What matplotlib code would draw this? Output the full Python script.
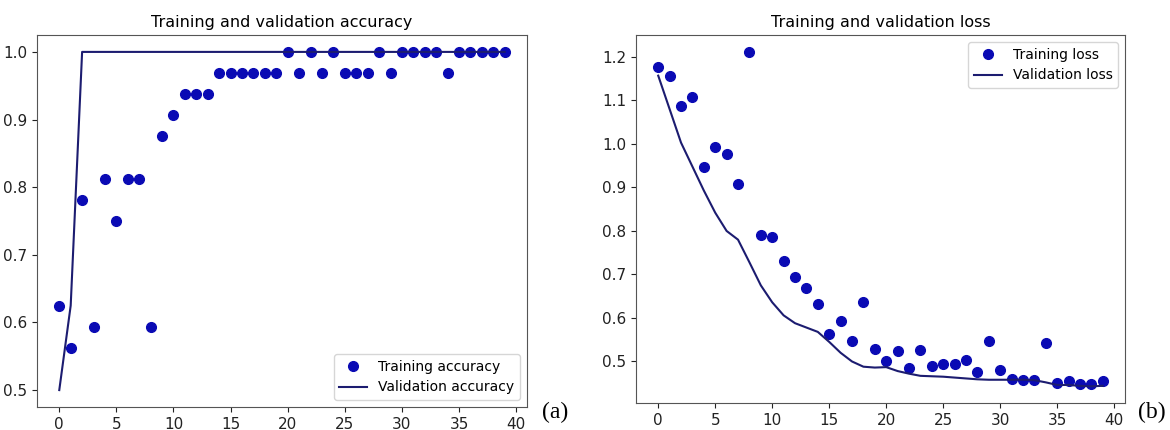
import matplotlib
matplotlib.use("Agg")
import matplotlib.pyplot as plt
import numpy as np

epochs = np.arange(40)

train_acc = [0.625, 0.5625, 0.78125, 0.59375, 0.8125, 0.75, 0.8125, 0.8125, 0.59375, 0.875,
             0.90625, 0.9375, 0.9375, 0.9375, 0.96875, 0.96875, 0.96875, 0.96875, 0.96875, 0.96875,
             1.0, 0.96875, 1.0, 0.96875, 1.0, 0.96875, 0.96875, 0.96875, 1.0, 0.96875,
             1.0, 1.0, 1.0, 1.0, 0.96875, 1.0, 1.0, 1.0, 1.0, 1.0]
val_acc = [0.5, 0.625] + [1.0] * 38

train_loss = [1.177, 1.157, 1.088, 1.107, 0.948, 0.994, 0.978, 0.907, 1.212, 0.790,
              0.785, 0.730, 0.695, 0.670, 0.631, 0.564, 0.592, 0.548, 0.636, 0.528,
              0.500, 0.523, 0.484, 0.526, 0.489, 0.494, 0.494, 0.503, 0.476, 0.548,
              0.480, 0.459, 0.457, 0.457, 0.542, 0.450, 0.455, 0.448, 0.448, 0.455]
val_loss = [1.157, 1.080, 1.003, 0.948, 0.893, 0.842, 0.800, 0.780, 0.728, 0.675,
            0.636, 0.606, 0.588, 0.578, 0.568, 0.545, 0.520, 0.500, 0.488, 0.486,
            0.487, 0.478, 0.472, 0.467, 0.466, 0.465, 0.463, 0.461, 0.459, 0.458,
            0.458, 0.458, 0.458, 0.457, 0.452, 0.446, 0.446, 0.444, 0.443, 0.444]

dot_color = "#0a0ab4"
line_color = "#1c1c70"

fig = plt.figure(figsize=(11.7, 4.3), dpi=100)
ax1 = fig.add_axes([37 / 1170, 23 / 430, 490 / 1170, 372 / 430])
ax2 = fig.add_axes([636 / 1170, 27 / 430, 489 / 1170, 368 / 430])

ax1.plot(epochs, train_acc, "o", color=dot_color, markersize=7, label="Training accuracy")
ax1.plot(epochs, val_acc, "-", color=line_color, linewidth=1.5, label="Validation accuracy")
ax1.set_title("Training and validation accuracy", fontsize=11.5)
ax1.legend(loc="lower right", fontsize=10)
ax1.set_xticks(np.arange(0, 41, 5))

ax2.plot(epochs, train_loss, "o", color=dot_color, markersize=7, label="Training loss")
ax2.plot(epochs, val_loss, "-", color=line_color, linewidth=1.5, label="Validation loss")
ax2.set_title("Training and validation loss", fontsize=11.5)
ax2.legend(loc="upper right", fontsize=10)
ax2.set_xticks(np.arange(0, 41, 5))

for ax in (ax1, ax2):
    ax.tick_params(labelsize=11, colors="#222222")
    for s in ax.spines.values():
        s.set_color("#555555")

fig.text(555 / 1170, 18 / 430, "(a)", fontsize=17, family="Liberation Serif", ha="center", va="center")
fig.text(1152 / 1170, 18 / 430, "(b)", fontsize=17, family="Liberation Serif", ha="center", va="center")

plt.savefig("out.png", dpi=100)
